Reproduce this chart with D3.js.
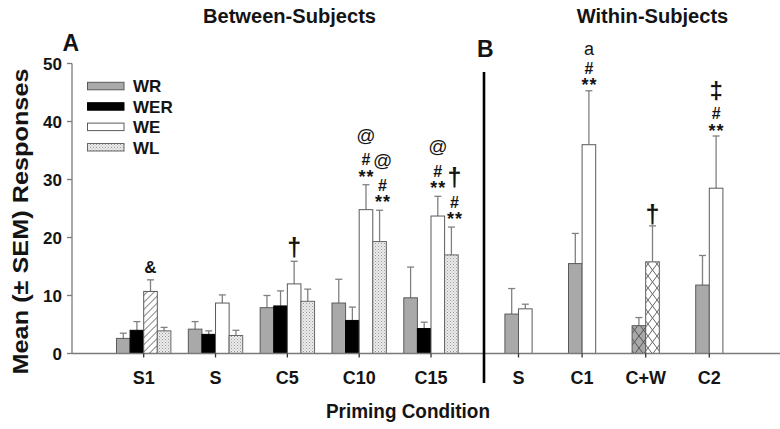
<!DOCTYPE html>
<html><head><meta charset="utf-8">
<script src="https://cdn.jsdelivr.net/npm/d3@7/dist/d3.min.js"></script>
<style>body{margin:0;background:#fff}svg{display:block;font-family:Arial,"Liberation Sans",sans-serif}</style>
</head><body><svg id="c" width="780" height="429"></svg>
<script>
// ---- data ----
const yTicks = [0, 10, 20, 30, 40, 50];
const series = ["WR", "WER", "WE", "WL"];
const leftCats = ["S1", "S", "C5", "C10", "C15"];
const leftWR  = [2.6, 4.2, 7.9, 8.7, 9.6];
const leftWER = [4.0, 3.3, 8.2, 5.7, 4.3];
const leftWE  = [10.7, 8.7, 12.0, 24.8, 23.7];
const leftWL  = [3.9, 3.1, 9.0, 19.3, 17.0];
const leftWRsem  = [0.9, 1.3, 2.1, 4.1, 5.3];
const leftWERsem = [1.5, 0.6, 2.6, 2.3, 1.1];
const leftWEsem  = [2.0, 1.4, 3.9, 4.3, 3.4];
const leftWLsem  = [0.6, 0.9, 2.1, 5.4, 4.8];
const rightSeries = ["WR", "WE"];
const rightCats = ["S", "C1", "C+W", "C2"];
const rightWR = [6.8, 15.5, 4.8, 11.8];
const rightWE = [7.7, 36.0, 15.8, 28.5];
const rightWRsem = [4.4, 5.2, 1.4, 5.1];
const rightWEsem = [0.8, 9.3, 6.2, 9.0];
// special-condition bars (different pattern)
const hatchedBars = [{panel: "A", cat: "S1", s: "WE"}];
const crossBars = [{panel: "B", cat: "C+W", s: "WR"}, {panel: "B", cat: "C+W", s: "WE"}];
// significance marks, listed top to bottom
const annotations = [
  {panel: "A", cat: "S1", s: "WE", marks: ["&"]},
  {panel: "A", cat: "C5", s: "WE", marks: ["†"]},
  {panel: "A", cat: "C10", s: "WE", marks: ["@", "#", "**"]},
  {panel: "A", cat: "C10", s: "WL", marks: ["@", "#", "**"]},
  {panel: "A", cat: "C15", s: "WE", marks: ["@", "#", "**"]},
  {panel: "A", cat: "C15", s: "WL", marks: ["†", "#", "**"]},
  {panel: "B", cat: "C1", s: "WE", marks: ["a", "#", "**"]},
  {panel: "B", cat: "C+W", s: "WE", marks: ["†"]},
  {panel: "B", cat: "C2", s: "WE", marks: ["‡", "#", "**"]}
];

// ---- build rows ----
const leftVals = {WR: leftWR, WER: leftWER, WE: leftWE, WL: leftWL};
const leftSems = {WR: leftWRsem, WER: leftWERsem, WE: leftWEsem, WL: leftWLsem};
const rightVals = {WR: rightWR, WE: rightWE};
const rightSems = {WR: rightWRsem, WE: rightWEsem};
const rows = [];
leftCats.forEach((c, i) => series.forEach(s => rows.push({panel: "A", cat: c, s, v: leftVals[s][i], e: leftSems[s][i]})));
rightCats.forEach((c, i) => rightSeries.forEach(s => rows.push({panel: "B", cat: c, s, v: rightVals[s][i], e: rightSems[s][i]})));

const svg = d3.select("#c");
const ink = "#141414";
const y = d3.scaleLinear().domain([0, 50]).range([353.5, 63.5]);
const xA = d3.scalePoint().domain(leftCats).range([143.7, 431]);
const xB = d3.scalePoint().domain(rightCats).range([518.5, 709.3]);
const barW = 13.6;
const subA = d3.scaleBand().domain(series).range([-2 * barW, 2 * barW]);
const subB = d3.scaleBand().domain(rightSeries).range([-barW, barW]);
const barX = r => r.panel === "A" ? xA(r.cat) + subA(r.s) : xB(r.cat) + subB(r.s);

// ---- patterns ----
const defs = svg.append("defs");
const pWL = defs.append("pattern").attr("id", "pWL").attr("width", 3).attr("height", 3).attr("patternUnits", "userSpaceOnUse");
pWL.append("rect").attr("width", 3).attr("height", 3).attr("fill", "#ececec");
pWL.append("rect").attr("width", 1).attr("height", 1).attr("fill", "#9a9a9a");
pWL.append("rect").attr("x", 1.5).attr("y", 1.5).attr("width", 1).attr("height", 1).attr("fill", "#b0b0b0");
const pH = defs.append("pattern").attr("id", "pHatch").attr("width", 5).attr("height", 5).attr("patternUnits", "userSpaceOnUse").attr("patternTransform", "rotate(45)");
pH.append("rect").attr("width", 5).attr("height", 5).attr("fill", "#fff");
pH.append("line").attr("x1", 0).attr("y1", 0).attr("x2", 0).attr("y2", 5).attr("stroke", "#555").attr("stroke-width", 1.4);
function cross(id, bg, fg) {
  const p = defs.append("pattern").attr("id", id).attr("width", 9).attr("height", 12).attr("patternUnits", "userSpaceOnUse");
  p.append("rect").attr("width", 9).attr("height", 12).attr("fill", bg);
  p.append("path").attr("d", "M0,0L9,12M9,0L0,12").attr("stroke", fg).attr("stroke-width", 1);
}
cross("pXg", "#a8a8a8", "#555");
cross("pXw", "#ffffff", "#666");

const baseFill = {WR: "#a9a9a9", WER: "#000", WE: "#fff", WL: "url(#pWL)"};
const baseStroke = {WR: "#5a5a5a", WER: "#000", WE: "#5a5a5a", WL: "#666"};
function fillOf(r) {
  if (hatchedBars.some(h => h.panel === r.panel && h.cat === r.cat && h.s === r.s)) return "url(#pHatch)";
  if (crossBars.some(h => h.panel === r.panel && h.cat === r.cat && h.s === r.s)) return r.s === "WR" ? "url(#pXg)" : "url(#pXw)";
  return baseFill[r.s];
}

// ---- axes ----
const axisCol = "#7a7a7a";
svg.append("line").attr("x1", 72).attr("x2", 72).attr("y1", y(50)).attr("y2", y(0)).attr("stroke", axisCol).attr("stroke-width", 1.3);
yTicks.forEach(t => {
  svg.append("line").attr("x1", 67).attr("x2", 72).attr("y1", y(t)).attr("y2", y(t)).attr("stroke", axisCol).attr("stroke-width", 1.3);
  svg.append("text").attr("x", 62).attr("y", y(t) + 6).attr("text-anchor", "end")
    .attr("font-size", 17).attr("font-weight", "bold").attr("fill", ink).text(t);
});

// ---- error bars ----
const eCol = "#808080";
rows.forEach(r => {
  const cx = barX(r) + barW / 2;
  svg.append("line").attr("x1", cx).attr("x2", cx).attr("y1", y(r.v)).attr("y2", y(r.v + r.e)).attr("stroke", eCol).attr("stroke-width", 1.3);
  svg.append("line").attr("x1", cx - 3.5).attr("x2", cx + 3.5).attr("y1", y(r.v + r.e)).attr("y2", y(r.v + r.e)).attr("stroke", eCol).attr("stroke-width", 1.3);
});

// ---- bars ----
svg.append("g").selectAll("rect").data(rows).join("rect")
  .attr("x", barX).attr("width", barW)
  .attr("y", d => y(d.v)).attr("height", d => y(0) - y(d.v))
  .attr("fill", fillOf).attr("stroke", d => baseStroke[d.s]).attr("stroke-width", 1);

// x baseline + ticks
svg.append("line").attr("x1", 72).attr("x2", 780).attr("y1", y(0)).attr("y2", y(0)).attr("stroke", axisCol).attr("stroke-width", 1.3);
const tickG = svg.append("g").attr("font-size", 18).attr("font-weight", "bold").attr("fill", ink).attr("text-anchor", "middle");
leftCats.forEach(c => {
  svg.append("line").attr("x1", xA(c)).attr("x2", xA(c)).attr("y1", y(0)).attr("y2", y(0) + 4).attr("stroke", "#333").attr("stroke-width", 1.3);
  tickG.append("text").attr("x", xA(c)).attr("y", 384).text(c);
});
rightCats.forEach(c => {
  svg.append("line").attr("x1", xB(c)).attr("x2", xB(c)).attr("y1", y(0)).attr("y2", y(0) + 4).attr("stroke", "#333").attr("stroke-width", 1.3);
  tickG.append("text").attr("x", xB(c)).attr("y", 384).text(c);
});

// separator
svg.append("line").attr("x1", 484).attr("x2", 484).attr("y1", 72).attr("y2", 383).attr("stroke", "#000").attr("stroke-width", 2.6);

// ---- annotations (one text element per stack) ----
const sym = {
  "**": {size: 18, w: "bold", h: 12, base: 10.5, ls: 1},
  "#":  {size: 16, w: "bold", h: 12.5, base: 5.5},
  "@":  {size: 19, w: "normal", h: 23, base: 5},
  "†":  {size: 25, w: "bold", h: 24, base: 7.5},
  "‡":  {size: 24, w: "bold", h: 22, base: 7.5},
  "&":  {size: 17, w: "bold", h: 13, base: 6},
  "a":  {size: 18, w: "normal", h: 18, base: 4.5}
};
const stackShift = {WR: 0, WER: 0, WE: 0, WL: 3};
annotations.forEach(a => {
  const r = rows.find(d => d.panel === a.panel && d.cat === a.cat && d.s === a.s);
  const cx = barX(r) + barW / 2 + stackShift[a.s];
  let cy = y(r.v + r.e) - (a.panel === "A" ? 12.5 : 10);
  const placed = [];
  a.marks.slice().reverse().forEach((m, i) => {
    const st = sym[m];
    if (i > 0) cy -= st.h;
    placed.unshift({m, st, cy});
  });
  const t = svg.append("text").attr("text-anchor", "middle").attr("fill", ink);
  placed.forEach(p => {
    t.append("tspan").attr("x", cx + (p.st.ls ? p.st.ls / 2 : 0)).attr("y", p.cy + p.st.base)
      .attr("font-size", p.st.size).attr("font-weight", p.st.w).attr("letter-spacing", p.st.ls || 0).text(p.m);
  });
});

// ---- legend ----
const leg = svg.append("g");
series.forEach((s, i) => {
  const ly = 82.3 + i * 20.4;
  leg.append("rect").attr("x", 87.5).attr("y", ly).attr("width", 36.5).attr("height", 7.5)
    .attr("fill", baseFill[s]).attr("stroke", baseStroke[s]).attr("stroke-width", 1);
  leg.append("text").attr("x", 133).attr("y", ly + 10).attr("font-size", 17).attr("font-weight", "bold").attr("fill", ink).text(s);
});

// ---- titles & labels ----
svg.append("text").attr("x", 289.5).attr("y", 23).attr("text-anchor", "middle").attr("font-size", 20).attr("font-weight", "bold").attr("fill", ink)
  .attr("textLength", 173).attr("lengthAdjust", "spacingAndGlyphs").text("Between-Subjects");
svg.append("text").attr("x", 652.5).attr("y", 23).attr("text-anchor", "middle").attr("font-size", 20).attr("font-weight", "bold").attr("fill", ink)
  .attr("textLength", 151.5).attr("lengthAdjust", "spacingAndGlyphs").text("Within-Subjects");
svg.append("text").attr("x", 62.5).attr("y", 51).attr("font-size", 23).attr("font-weight", "bold").attr("fill", ink).text("A");
svg.append("text").attr("x", 477).attr("y", 57).attr("font-size", 23).attr("font-weight", "bold").attr("fill", ink).text("B");
svg.append("text").attr("transform", "translate(27.5,221.5) rotate(-90)").attr("text-anchor", "middle")
  .attr("font-size", 22).attr("font-weight", "bold").attr("fill", ink)
  .attr("textLength", 306).attr("lengthAdjust", "spacingAndGlyphs").text("Mean (± SEM) Responses");
svg.append("text").attr("x", 408).attr("y", 418).attr("text-anchor", "middle").attr("font-size", 21).attr("font-weight", "bold").attr("fill", ink)
  .attr("textLength", 164).attr("lengthAdjust", "spacingAndGlyphs").text("Priming Condition");
</script></body></html>
